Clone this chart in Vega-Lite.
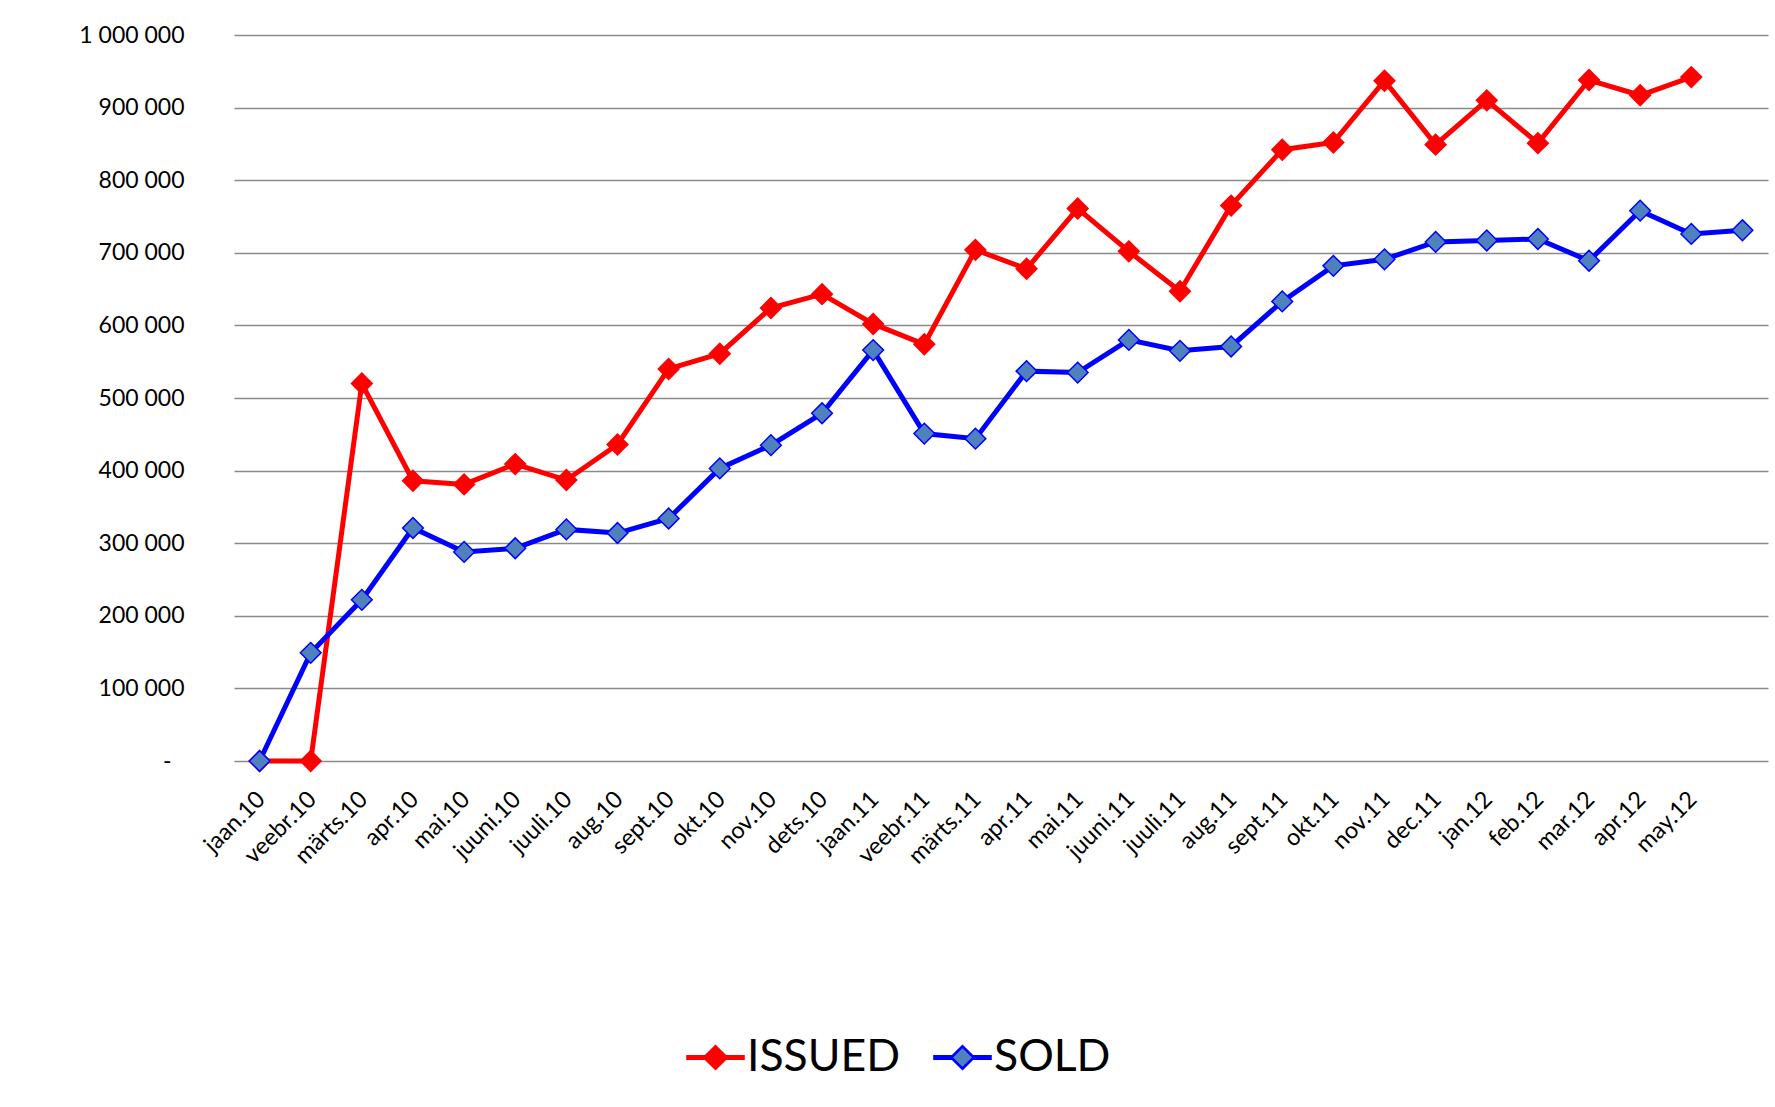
{
  "$schema": "https://vega.github.io/schema/vega-lite/v6.json",
  "width": 1534,
  "height": 726,
  "autosize": {"type": "none"},
  "padding": {"left": 234, "top": 35, "right": 7, "bottom": 346},
  "background": "white",
  "config": {
    "view": {"stroke": null},
    "font": "Lato",
    "locale": {"number": {"decimal": ",", "thousands": " ", "grouping": [3], "currency": ["", ""]}}
  },
  "data": {
    "values": [
      {"month": "jaan.10", "series": "ISSUED", "value": 0},
      {"month": "veebr.10", "series": "ISSUED", "value": 0},
      {"month": "märts.10", "series": "ISSUED", "value": 520000},
      {"month": "apr.10", "series": "ISSUED", "value": 386000},
      {"month": "mai.10", "series": "ISSUED", "value": 381000},
      {"month": "juuni.10", "series": "ISSUED", "value": 409000},
      {"month": "juuli.10", "series": "ISSUED", "value": 387000},
      {"month": "aug.10", "series": "ISSUED", "value": 436000},
      {"month": "sept.10", "series": "ISSUED", "value": 540000},
      {"month": "okt.10", "series": "ISSUED", "value": 561000},
      {"month": "nov.10", "series": "ISSUED", "value": 624000},
      {"month": "dets.10", "series": "ISSUED", "value": 643000},
      {"month": "jaan.11", "series": "ISSUED", "value": 602000},
      {"month": "veebr.11", "series": "ISSUED", "value": 574000},
      {"month": "märts.11", "series": "ISSUED", "value": 704000},
      {"month": "apr.11", "series": "ISSUED", "value": 678000},
      {"month": "mai.11", "series": "ISSUED", "value": 761000},
      {"month": "juuni.11", "series": "ISSUED", "value": 702000},
      {"month": "juuli.11", "series": "ISSUED", "value": 647000},
      {"month": "aug.11", "series": "ISSUED", "value": 765000},
      {"month": "sept.11", "series": "ISSUED", "value": 842000},
      {"month": "okt.11", "series": "ISSUED", "value": 852000},
      {"month": "nov.11", "series": "ISSUED", "value": 937000},
      {"month": "dec.11", "series": "ISSUED", "value": 849000},
      {"month": "jan.12", "series": "ISSUED", "value": 910000},
      {"month": "feb.12", "series": "ISSUED", "value": 851000},
      {"month": "mar.12", "series": "ISSUED", "value": 938000},
      {"month": "apr.12", "series": "ISSUED", "value": 917000},
      {"month": "may.12", "series": "ISSUED", "value": 942000},
      {"month": "jaan.10", "series": "SOLD", "value": 0},
      {"month": "veebr.10", "series": "SOLD", "value": 149000},
      {"month": "märts.10", "series": "SOLD", "value": 222000},
      {"month": "apr.10", "series": "SOLD", "value": 321000},
      {"month": "mai.10", "series": "SOLD", "value": 288000},
      {"month": "juuni.10", "series": "SOLD", "value": 293000},
      {"month": "juuli.10", "series": "SOLD", "value": 319000},
      {"month": "aug.10", "series": "SOLD", "value": 314000},
      {"month": "sept.10", "series": "SOLD", "value": 334000},
      {"month": "okt.10", "series": "SOLD", "value": 403000},
      {"month": "nov.10", "series": "SOLD", "value": 435000},
      {"month": "dets.10", "series": "SOLD", "value": 479000},
      {"month": "jaan.11", "series": "SOLD", "value": 566000},
      {"month": "veebr.11", "series": "SOLD", "value": 451000},
      {"month": "märts.11", "series": "SOLD", "value": 444000},
      {"month": "apr.11", "series": "SOLD", "value": 537000},
      {"month": "mai.11", "series": "SOLD", "value": 535000},
      {"month": "juuni.11", "series": "SOLD", "value": 580000},
      {"month": "juuli.11", "series": "SOLD", "value": 565000},
      {"month": "aug.11", "series": "SOLD", "value": 571000},
      {"month": "sept.11", "series": "SOLD", "value": 633000},
      {"month": "okt.11", "series": "SOLD", "value": 682000},
      {"month": "nov.11", "series": "SOLD", "value": 691000},
      {"month": "dec.11", "series": "SOLD", "value": 715000},
      {"month": "jan.12", "series": "SOLD", "value": 717000},
      {"month": "feb.12", "series": "SOLD", "value": 719000},
      {"month": "mar.12", "series": "SOLD", "value": 689000},
      {"month": "apr.12", "series": "SOLD", "value": 758000},
      {"month": "may.12", "series": "SOLD", "value": 726000},
      {"month": " ", "series": "SOLD", "value": 731000}
    ]
  },
  "encoding": {
    "x": {
      "field": "month",
      "type": "nominal",
      "sort": ["jaan.10","veebr.10","märts.10","apr.10","mai.10","juuni.10","juuli.10","aug.10","sept.10","okt.10","nov.10","dets.10","jaan.11","veebr.11","märts.11","apr.11","mai.11","juuni.11","juuli.11","aug.11","sept.11","okt.11","nov.11","dec.11","jan.12","feb.12","mar.12","apr.12","may.12"," "],
      "axis": {
        "title": null,
        "domain": false,
        "ticks": false,
        "grid": false,
        "labelAngle": -45,
        "labelAlign": "right",
        "labelBaseline": "top",
        "labelFontSize": 23.5,
        "labelColor": "#000000",
        "labelPadding": 26,
        "labelOffset": -7
      }
    },
    "y": {
      "field": "value",
      "type": "quantitative",
      "scale": {"domain": [0, 1000000], "nice": false},
      "axis": {
        "title": null,
        "values": [0, 100000, 200000, 300000, 400000, 500000, 600000, 700000, 800000, 900000, 1000000],
        "format": ",d",
        "labelExpr": "datum.value == 0 ? '-' : datum.label",
        "domain": false,
        "ticks": false,
        "grid": true,
        "gridColor": "#8a8a8a",
        "gridWidth": 1.5,
        "labelFontSize": 23,
        "labelColor": "#000000",
        "labelPadding": {"condition": {"test": "datum.value === 0", "value": 63}, "value": 50}
      }
    }
  },
  "layer": [
    {
      "mark": {"type": "line", "strokeWidth": 5},
      "encoding": {
        "stroke": {
          "field": "series",
          "type": "nominal",
          "scale": {"domain": ["ISSUED", "SOLD"], "range": ["#ff0000", "#0000ff"]},
          "legend": {
            "title": null,
            "orient": "none",
            "legendX": 452,
            "legendY": 993,
            "direction": "horizontal",
            "labelFontSize": 44.5,
            "labelColor": "#000000",
            "labelOffset": 2,
            "columnPadding": 28,
            "symbolSize": 3136,
            "symbolStrokeWidth": 2.6,
            "symbolType": "M-1,-0.045L-0.355,-0.045L0,-0.4L0.355,-0.045L1,-0.045L1,0.045L0.355,0.045L0,0.4L-0.355,0.045L-1,0.045Z",
            "encode": {
              "symbols": {
                "update": {
                  "fill": [{"test": "datum.value === 'SOLD'", "value": "#4f81bd"}, {"value": "#ff0000"}],
                  "opacity": {"value": 1}
                }
              }
            }
          }
        }
      }
    },
    {
      "mark": {"type": "point", "shape": "diamond", "filled": true, "opacity": 1, "strokeWidth": 1.5, "size": 430},
      "encoding": {
        "fill": {
          "field": "series",
          "type": "nominal",
          "scale": {"domain": ["ISSUED", "SOLD"], "range": ["#ff0000", "#4f81bd"]},
          "legend": null
        },
        "stroke": {"field": "series", "type": "nominal"}
      }
    }
  ]
}
